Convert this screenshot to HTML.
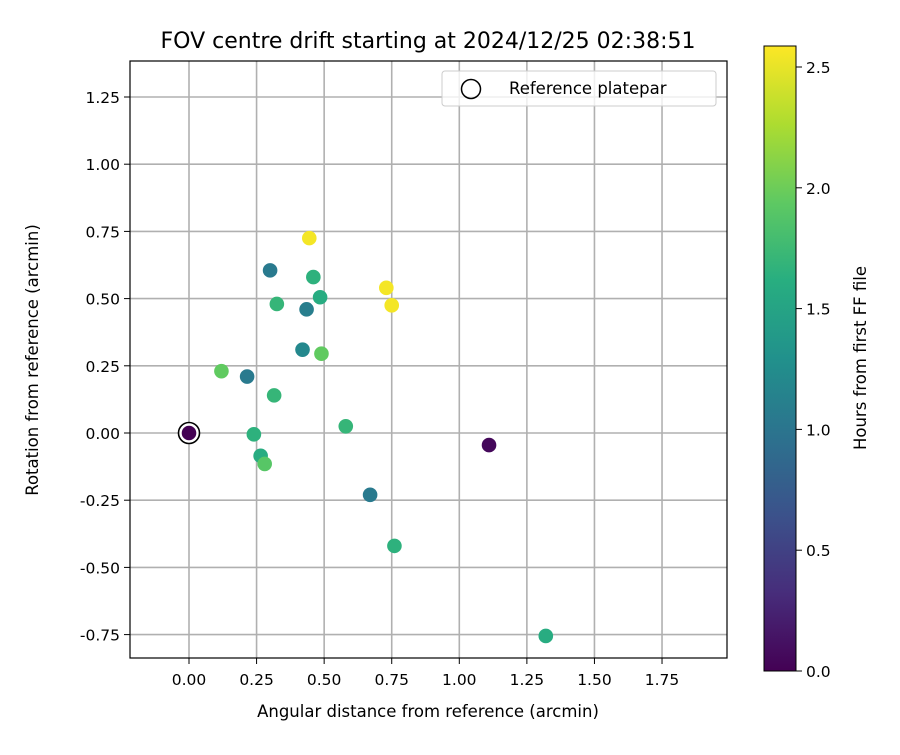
<!DOCTYPE html>
<html><head><meta charset="utf-8"><style>
body{margin:0;background:#fff}
svg text{font-family:"DejaVu Sans","Liberation Sans",sans-serif;fill:#000}
</style></head><body>
<svg id="c" width="900" height="750" xmlns="http://www.w3.org/2000/svg">
<defs><linearGradient id="vir" x1="0" y1="1" x2="0" y2="0">
<stop offset="0" stop-color="#440154"/><stop offset="0.125" stop-color="#472d7b"/><stop offset="0.25" stop-color="#3b528b"/><stop offset="0.375" stop-color="#2c728e"/><stop offset="0.5" stop-color="#21918c"/><stop offset="0.625" stop-color="#28ae80"/><stop offset="0.75" stop-color="#5ec962"/><stop offset="0.875" stop-color="#addc30"/><stop offset="1" stop-color="#fde725"/></linearGradient></defs>
<g id="grid"></g>
<g id="pts"></g>
<rect x="130" y="61" width="597" height="597" fill="none" stroke="#000" stroke-width="1.2"/>
<g id="ticks"></g>
<text x="428" y="48" font-size="22" text-anchor="middle">FOV centre drift starting at 2024/12/25 02:38:51</text>
<text x="428" y="717" font-size="16.5" text-anchor="middle">Angular distance from reference (arcmin)</text>
<text transform="translate(38,360) rotate(-90)" font-size="16.5" text-anchor="middle">Rotation from reference (arcmin)</text>
<g>
<rect x="442" y="71" width="274" height="35" rx="3" fill="#fff" fill-opacity="0.8" stroke="#ccc"/>
<circle cx="471" cy="89" r="9.5" fill="none" stroke="#000" stroke-width="1.5"/>
<text x="509" y="94" font-size="16.5">Reference platepar</text>
</g>
<rect x="764" y="46" width="32" height="625" fill="url(#vir)" stroke="#000" stroke-width="1"/>
<g id="cbt"></g>
<text transform="translate(866,358) rotate(-90)" font-size="16.5" text-anchor="middle">Hours from first FF file</text>
</svg>
<script>
const xs=[0,1.11,1.32,0.76,0.67,0.58,0.49,0.485,0.46,0.445,0.73,0.75,0.435,0.42,0.30,0.325,0.315,0.215,0.12,0.24,0.265,0.28];
const ys=[0,-0.045,-0.755,-0.42,-0.23,0.025,0.295,0.505,0.58,0.725,0.54,0.475,0.46,0.31,0.605,0.48,0.14,0.21,0.23,-0.005,-0.085,-0.115];
const hrs=[0,0.05,1.6,1.65,1.05,1.7,1.95,1.6,1.65,2.55,2.55,2.55,1.1,1.2,1.05,1.7,1.7,1.05,1.95,1.65,1.6,1.9];
const xTicks=[0,0.25,0.5,0.75,1,1.25,1.5,1.75];
const yTicks=[-0.75,-0.5,-0.25,0,0.25,0.5,0.75,1,1.25];
const cTicks=[0,0.5,1,1.5,2,2.5];
const X=v=>189+v*270.3, Y=v=>433-v*268.8, C=v=>671-v*241.6;
const stops=[[68,1,84],[71,45,123],[59,82,139],[44,114,142],[33,145,140],[40,174,128],[94,201,98],[173,220,48],[253,231,37]];
function vir(h){let t=Math.max(0,Math.min(1,h/2.587))*8,i=Math.min(7,Math.floor(t)),f=t-i;const a=stops[i],b=stops[i+1];return`rgb(${a.map((v,k)=>Math.round(v+(b[k]-v)*f)).join(',')})`;}
const NS='http://www.w3.org/2000/svg';
function mk(tag,at,par){const e=document.createElementNS(NS,tag);for(const k in at)e.setAttribute(k,at[k]);document.getElementById(par).appendChild(e);return e;}
xTicks.forEach(v=>{const l=mk('line',{x1:X(v),x2:X(v),y1:61,y2:658,stroke:'#b0b0b0','stroke-width':1.6},'grid');


mk('line',{x1:X(v),x2:X(v),y1:658,y2:664,stroke:'#000'},'ticks');
const t=mk('text',{x:X(v),y:685,'font-size':15.5,'text-anchor':'middle'},'ticks');t.textContent=v.toFixed(2);

});
yTicks.forEach(v=>{const l=mk('line',{x1:130,x2:727,y1:Y(v),y2:Y(v),stroke:'#b0b0b0','stroke-width':1.6},'grid');


mk('line',{x1:124,x2:130,y1:Y(v),y2:Y(v),stroke:'#000'},'ticks');
const t=mk('text',{x:120,y:Y(v)+6,'font-size':15.5,'text-anchor':'end'},'ticks');t.textContent=v.toFixed(2);

});
cTicks.forEach(v=>{mk('line',{x1:796,x2:802,y1:C(v),y2:C(v),stroke:'#000'},'cbt');
const t=mk('text',{x:806,y:C(v)+6,'font-size':15.5},'cbt');t.textContent=v.toFixed(1);

});
const rm=mk('circle',{cx:X(0),cy:Y(0),r:10.5,fill:'#fff',stroke:'#000','stroke-width':1.6},'pts');


xs.forEach((x,i)=>{const c=mk('circle',{cx:X(x),cy:Y(ys[i]),r:7.3,fill:vir(hrs[i])},'pts');

});
</script>
</body></html>
